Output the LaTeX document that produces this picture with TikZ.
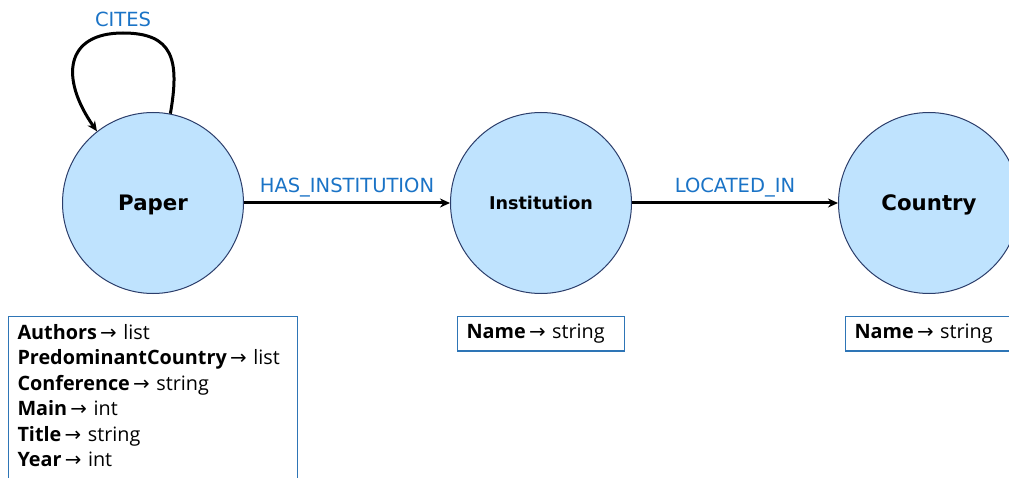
\documentclass[tikz,border=0pt]{standalone}
\usepackage{fontspec}
\setmainfont{Open Sans}
\newfontfamily\labelfont{DejaVu Sans}
\newfontfamily\symfont{DejaVu Sans}
\usepackage{tikz}
\usetikzlibrary{arrows.meta, positioning}

\definecolor{nodeblue}{RGB}{191,227,254}
\definecolor{navy}{RGB}{44,62,107}
\definecolor{relblue}{RGB}{26,115,198}
\definecolor{boxblue}{RGB}{46,117,182}

\newcommand{\arr}{\,{\symfont →}}

\begin{document}
\begin{tikzpicture}[x=1pt, y=-1pt,
					entity/.style={draw=navy, line width=1pt, fill=nodeblue, circle, minimum size=181pt, inner sep=0pt,
						text depth=0pt, font=\labelfont\bfseries\fontsize{21.3}{25}\selectfont},
					props/.style={draw=boxblue, line width=1.3pt, align=left, inner xsep=9pt, inner ysep=7.5pt,
						font=\fontsize{19.8}{25.5}\selectfont},
					rel/.style={-{Stealth[length=10pt, width=9pt]}, line width=3pt},
					rellabel/.style={text=relblue, font=\labelfont\fontsize{19.5}{23}\selectfont},
					node distance=206pt and 206pt]
				\useasboundingbox (0,0) rectangle (1009,478);
				\clip (0,0) rectangle (1009,478);
				% entities
				\node[entity]                 (paper)   at (153,203) {Paper};
				\node[entity, right =of paper,
					font=\labelfont\bfseries\fontsize{17.6}{21}\selectfont] (inst) {Institution};
				\node[entity, right =of inst] (country) {Country};
				% properties
				\node[props, text width=271pt, below =22pt of paper] (paperprops)
					{\textbf{Authors}\arr{} list\\
					 \textbf{PredominantCountry}\arr{} list\\
					 \textbf{Conference}\arr{} string\\
					 \textbf{Main}\arr{} int\\
					 \textbf{Title}\arr{} string\\
					 \textbf{Year}\arr{} int\\[-8pt]\mbox{}};
				\node[props, text width=149pt, below =22pt of inst] (instprops) {\textbf{Name}\arr{} string};
				\node[props, text width=149pt, below =22pt of country] (countryprops) {\textbf{Name}\arr{} string};
				% relations
				\coordinate (looptop) at (123,33);
				\draw[rel] (paper.79) .. controls +(-80:55) and +(50,0) .. (looptop) node[above=1pt, rellabel] {CITES}
					.. controls +(-58,0) and +(-125:65) .. (paper.128);
				\draw[rel] (paper) -- node[above=1pt, rellabel] {HAS\_INSTITUTION} (inst);
				\draw[rel] (inst) -- node[above=1pt, rellabel] {LOCATED\_IN} (country);
			\end{tikzpicture}
\end{document}
